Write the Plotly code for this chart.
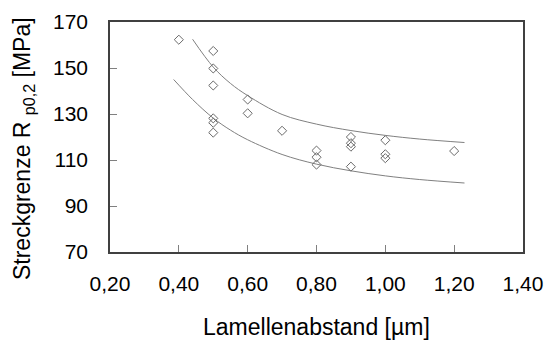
import plotly.graph_objects as go

# Measured data points (Lamellenabstand [µm], Streckgrenze [MPa])
spacing = [0.40, 0.50, 0.50, 0.50, 0.50, 0.50, 0.50, 0.60, 0.60, 0.70,
           0.80, 0.80, 0.80, 0.90, 0.90, 0.90, 0.90, 1.00, 1.00, 1.00, 1.20]
strength = [162.3, 157.4, 149.8, 142.4, 128.1, 126.2, 121.9, 136.3, 130.3, 122.7,
            114.1, 111.2, 108.0, 120.0, 117.3, 115.8, 107.1, 118.6, 112.5, 110.8, 113.9]

# Upper and lower band curves
upper_x = [0.44, 0.50, 0.55, 0.60, 0.70, 0.80, 0.90, 1.00, 1.10, 1.23]
upper_y = [162.5, 150.4, 143.3, 138.0, 129.8, 125.6, 122.8, 120.7, 119.1, 117.6]
lower_x = [0.385, 0.44, 0.50, 0.55, 0.60, 0.70, 0.80, 0.90, 1.00, 1.10, 1.23]
lower_y = [145.0, 136.3, 128.2, 123.0, 118.8, 112.4, 108.2, 105.3, 103.1, 101.5, 100.0]

x_ticks = [0.2, 0.4, 0.6, 0.8, 1.0, 1.2, 1.4]
y_ticks = [70, 90, 110, 130, 150, 170]

font_family = "Liberation Sans, Arial, sans-serif"

fig = go.Figure()
for cx, cy in [(upper_x, upper_y), (lower_x, lower_y)]:
    fig.add_trace(go.Scatter(x=cx, y=cy, mode="lines",
                             line=dict(color="#808080", width=1, shape="spline", smoothing=1.0),
                             hoverinfo="skip", showlegend=False))
fig.add_trace(go.Scatter(x=spacing, y=strength, mode="markers",
                         marker=dict(symbol="diamond-open", size=7,
                                     color="#6a6a6a", line=dict(width=1, color="#6a6a6a")),
                         showlegend=False))

fig.update_layout(
    width=546, height=343,
    margin=dict(l=110, r=23, t=22, b=91),
    paper_bgcolor="white", plot_bgcolor="white",
    separators=",.",
    font=dict(family=font_family, size=21, color="#000"),
    xaxis=dict(range=[0.2, 1.4], tickvals=x_ticks, tickformat=".2f",
               ticks="inside", ticklen=7, tickcolor="#808080", tickwidth=1,
               showline=True, linecolor="#404040", linewidth=1.5, mirror=True,
               showgrid=False, zeroline=False, ticklabelstandoff=12,
               automargin=False),
    yaxis=dict(range=[70, 170], tickvals=y_ticks,
               ticks="inside", ticklen=7, tickcolor="#808080", tickwidth=1,
               showline=True, linecolor="#404040", linewidth=1.5, mirror=True,
               showgrid=False, zeroline=False, ticklabelstandoff=16,
               automargin=False),
    annotations=[
        dict(text="Streckgrenze R <sub>p0,2</sub> [MPa]", textangle=-90,
             xref="paper", yref="paper", x=-0.208, y=0.448,
             xanchor="center", yanchor="middle", showarrow=False,
             font=dict(size=23, family=font_family, color="#000")),
        dict(text="Lamellenabstand [µm]",
             xref="paper", yref="paper", x=0.5, y=-0.327,
             xanchor="center", yanchor="middle", showarrow=False,
             font=dict(size=23, family=font_family, color="#000")),
    ],
)

fig.write_html("out.html")
